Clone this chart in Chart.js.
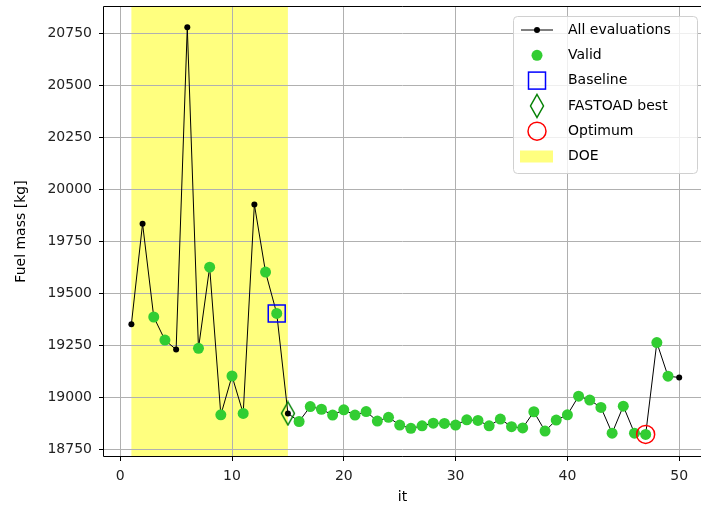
<!DOCTYPE html>
<html>
<head>
<meta charset="utf-8">
<script src="https://cdn.jsdelivr.net/npm/chart.js@4.4.1/dist/chart.umd.min.js"></script>
<style>
  html, body { margin: 0; padding: 0; background: #fff; }
  canvas { display: block; }
</style>
</head>
<body>
<canvas id="chart" width="701" height="508"></canvas>
<script>
// Data
const iterations = [1, 2, 3, 4, 5, 6, 7, 8, 9, 10, 11, 12, 13, 14, 15, 16, 17, 18, 19, 20,
                    21, 22, 23, 24, 25, 26, 27, 28, 29, 30, 31, 32, 33, 34, 35, 36, 37, 38, 39, 40,
                    41, 42, 43, 44, 45, 46, 47, 48, 49, 50];
const fuelMass = [19351, 19835, 19386, 19275, 19229, 20780, 19235, 19626, 18915, 19102,
                  18922, 19928, 19602, 19403, 18922, 18883, 18955, 18942, 18914, 18939,
                  18914, 18931, 18885, 18903, 18866, 18850, 18862, 18875, 18874, 18866,
                  18891, 18888, 18862, 18895, 18858, 18852, 18930, 18837, 18890, 18915,
                  19005, 18986, 18951, 18827, 18957, 18827, 18821, 19263, 19101, 19095];
const isValid = [0, 0, 1, 1, 0, 0, 1, 1, 1, 1,
                 1, 0, 1, 1, 0, 1, 1, 1, 1, 1,
                 1, 1, 1, 1, 1, 1, 1, 1, 1, 1,
                 1, 1, 1, 1, 1, 1, 1, 1, 1, 1,
                 1, 1, 1, 1, 1, 1, 1, 1, 1, 0];
const baselineIt = 14;
const fastoadBestIt = 15;
const optimumIt = 47;
const doeRange = [1, 15];
const xTicks = [0, 10, 20, 30, 40, 50];
const yTicks = [18750, 19000, 19250, 19500, 19750, 20000, 20250, 20500, 20750];
const legendLabels = ['All evaluations', 'Valid', 'Baseline', 'FASTOAD best', 'Optimum', 'DOE'];

const FONT = 'DejaVu Sans';
const GREEN = '#32cd32';
const DOE_COLOR = 'rgba(255, 255, 0, 0.5)';

const pointAt = it => ({ x: it, y: fuelMass[iterations.indexOf(it)] });

// thin diamond marker ("d" in matplotlib)
function makeDiamond() {
    const c = document.createElement('canvas');
    c.width = 16;
    c.height = 26;
    const g = c.getContext('2d');
    g.strokeStyle = '#008000';
    g.lineWidth = 1.5;
    g.beginPath();
    g.moveTo(8, 1.5);
    g.lineTo(14.5, 13);
    g.lineTo(8, 24.5);
    g.lineTo(1.5, 13);
    g.closePath();
    g.stroke();
    return c;
}
const diamond = makeDiamond();

// yellow DOE band behind the grid
const doeBand = {
    id: 'doeBand',
    beforeDraw(chart) {
        const { ctx, chartArea, scales } = chart;
        const x0 = scales.x.getPixelForValue(doeRange[0]);
        const x1 = scales.x.getPixelForValue(doeRange[1]);
        ctx.save();
        ctx.fillStyle = DOE_COLOR;
        ctx.fillRect(x0, chartArea.top, x1 - x0, chartArea.bottom - chartArea.top);
        ctx.restore();
    }
};

// black frame (right side is cut off in the picture) + matplotlib-like legend
const frameAndLegend = {
    id: 'frameAndLegend',
    afterDatasetsDraw(chart) {
        const { ctx, chartArea } = chart;
        const l = Math.round(chartArea.left) - 0.5;
        const t = Math.round(chartArea.top) - 0.5;
        const b = Math.round(chartArea.bottom) + 0.5;
        ctx.save();
        ctx.strokeStyle = '#000';
        ctx.lineWidth = 1;
        ctx.beginPath();
        ctx.moveTo(chartArea.right + 2, t);
        ctx.lineTo(l, t);
        ctx.lineTo(l, b);
        ctx.lineTo(chartArea.right + 2, b);
        ctx.stroke();
        ctx.restore();
    },
    afterDraw(chart) {
        const { ctx } = chart;
        const bx = 513, by = 16, bw = 184, bh = 157, r = 4;
        ctx.save();
        ctx.beginPath();
        ctx.roundRect(bx + 0.5, by + 0.5, bw, bh, r);
        ctx.fillStyle = 'rgba(255,255,255,0.8)';
        ctx.fill();
        ctx.strokeStyle = '#d0d0d0';
        ctx.lineWidth = 1;
        ctx.stroke();

        const sx = 537, tx = 568, y0 = 30, dy = 25.3;
        ctx.font = '14px "' + FONT + '"';
        ctx.textBaseline = 'middle';
        ctx.fillStyle = '#000';
        legendLabels.forEach((label, i) => {
            const y = y0 + i * dy;
            ctx.save();
            if (i === 0) {
                ctx.strokeStyle = '#000';
                ctx.lineWidth = 1;
                ctx.beginPath();
                ctx.moveTo(521, y);
                ctx.lineTo(553, y);
                ctx.stroke();
                ctx.beginPath();
                ctx.arc(sx, y, 3, 0, Math.PI * 2);
                ctx.fillStyle = '#000';
                ctx.fill();
            } else if (i === 1) {
                ctx.beginPath();
                ctx.arc(sx, y, 5.5, 0, Math.PI * 2);
                ctx.fillStyle = GREEN;
                ctx.fill();
            } else if (i === 2) {
                ctx.strokeStyle = '#0000ff';
                ctx.lineWidth = 1.5;
                ctx.strokeRect(sx - 8.5, y - 8.5, 17, 17);
            } else if (i === 3) {
                ctx.drawImage(diamond, sx - 8, y - 13);
            } else if (i === 4) {
                ctx.strokeStyle = '#ff0000';
                ctx.lineWidth = 1.5;
                ctx.beginPath();
                ctx.arc(sx, y, 9, 0, Math.PI * 2);
                ctx.stroke();
            } else {
                ctx.fillStyle = DOE_COLOR;
                ctx.fillRect(520, y - 6, 33, 12);
            }
            ctx.restore();
            ctx.fillText(label, tx, y);
        });
        ctx.restore();
    }
};

const allPoints = iterations.map((it, i) => ({ x: it, y: fuelMass[i] }));
const validPoints = allPoints.filter((p, i) => isValid[i]);

new Chart(document.getElementById('chart'), {
    type: 'scatter',
    data: {
        datasets: [
            {
                label: legendLabels[0],
                data: allPoints,
                showLine: true,
                borderColor: '#000',
                borderWidth: 1,
                pointRadius: 3,
                pointBackgroundColor: '#000',
                pointBorderWidth: 0,
                tension: 0,
                order: 5
            },
            {
                label: legendLabels[1],
                data: validPoints,
                pointRadius: 5.5,
                pointBackgroundColor: GREEN,
                pointBorderWidth: 0,
                order: 4
            },
            {
                label: legendLabels[2],
                data: [pointAt(baselineIt)],
                pointStyle: 'rect',
                pointRadius: 12,
                pointBackgroundColor: 'transparent',
                pointBorderColor: '#0000ff',
                pointBorderWidth: 1.5,
                order: 3
            },
            {
                label: legendLabels[3],
                data: [pointAt(fastoadBestIt)],
                pointStyle: diamond,
                order: 2
            },
            {
                label: legendLabels[4],
                data: [pointAt(optimumIt)],
                pointRadius: 9,
                pointBackgroundColor: 'transparent',
                pointBorderColor: '#ff0000',
                pointBorderWidth: 1.5,
                order: 1
            }
        ]
    },
    options: {
        responsive: false,
        animation: false,
        layout: { autoPadding: false, padding: { top: 7, right: 0, left: 0, bottom: 0 } },
        plugins: {
            legend: { display: false },
            tooltip: { enabled: false }
        },
        scales: {
            x: {
                type: 'linear',
                min: -1.45,
                max: 51.95,
                afterBuildTicks: s => { s.ticks = xTicks.map(v => ({ value: v })); },
                afterFit: s => { s.height = 52; s.paddingLeft = 0; s.paddingRight = 0; },
                ticks: {
                    font: { family: FONT, size: 14 },
                    color: '#222',
                    padding: 7,
                    maxRotation: 0,
                    callback: v => String(v)
                },
                grid: { color: '#b0b0b0', lineWidth: 1, tickLength: 5, tickColor: '#000' },
                border: { display: false },
                title: {
                    display: true,
                    text: 'it',
                    font: { family: FONT, size: 14 },
                    color: '#000',
                    padding: { top: 0, bottom: 2 }
                }
            },
            y: {
                type: 'linear',
                min: 18717,
                max: 20878,
                afterBuildTicks: s => { s.ticks = yTicks.map(v => ({ value: v })); },
                afterFit: s => { s.width = 104; s.paddingTop = 0; s.paddingBottom = 0; },
                ticks: {
                    font: { family: FONT, size: 14 },
                    color: '#222',
                    padding: 7,
                    callback: v => String(v)
                },
                grid: { color: '#b0b0b0', lineWidth: 1, tickLength: 5, tickColor: '#000' },
                border: { display: false },
                title: {
                    display: true,
                    text: 'Fuel mass [kg]',
                    font: { family: FONT, size: 14 },
                    color: '#000',
                    padding: { top: 13, bottom: 0 }
                }
            }
        }
    },
    plugins: [doeBand, frameAndLegend]
});
</script>
</body>
</html>
